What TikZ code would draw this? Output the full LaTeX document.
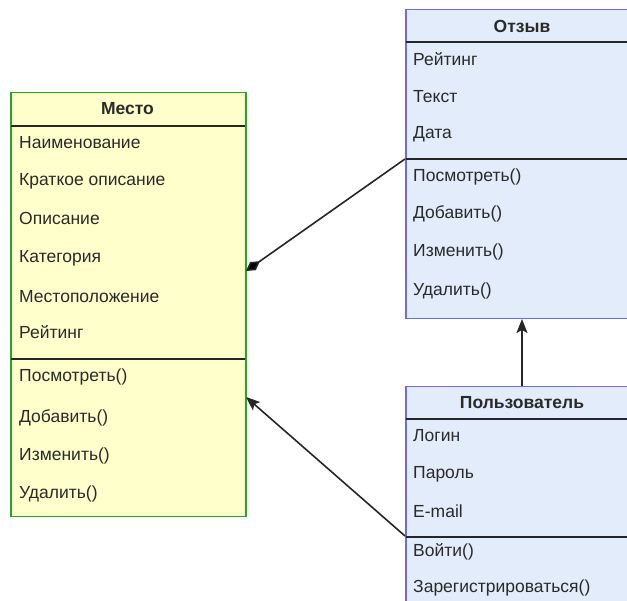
\documentclass[tikz,border=0pt]{standalone}
\usepackage{fontspec}
\setmainfont{Liberation Sans}
\usetikzlibrary{arrows.meta}
\definecolor{placefill}{HTML}{FFFFCC}
\definecolor{placeline}{HTML}{1FAA1F}
\definecolor{bluefill}{HTML}{E3ECFB}
\definecolor{blueline}{HTML}{6C6CE8}
\definecolor{txt}{HTML}{2A2A2A}
\tikzset{
  classbox/.style={draw, line width=1.5pt, anchor=north west, inner sep=0pt},
  placebox/.style={classbox, fill=placefill, draw=placeline},
  bluebox/.style={classbox, fill=bluefill, draw=blueline},
  sepline/.style={draw=black!85, line width=1.5pt},
  attr/.style={anchor=west, inner sep=0pt, font=\fontsize{17.5}{20}\selectfont, text=txt},
  title/.style={anchor=center, inner sep=0pt, font=\fontsize{17.5}{20}\selectfont\bfseries, text=txt},
  link/.style={draw=black!85, line width=1.6pt},
}
\begin{document}
\begin{tikzpicture}[x=1pt,y=-1pt]
\useasboundingbox (0,0) rectangle (627,601);
\begin{scope}
\clip (0,0) rectangle (627,601);
% --- class Место ---
\node[placebox, minimum width=235pt, minimum height=424pt] (place) at (10,92) {};
\draw[sepline] (10.5,126) -- (244.5,126);
\draw[sepline] (10.5,359) -- (244.5,359);
\node[title] (placeT) at (127.5,109) {Место};
\node[attr] (p1) at (19,143) {Наименование};
\node[attr] (p2) at (19,181) {Краткое описание};
\node[attr] (p3) at (19,218) {Описание};
\node[attr] (p4) at (19,258) {Категория};
\node[attr] (p5) at (19,297) {Местоположение};
\node[attr] (p6) at (19,332) {Рейтинг};
\node[attr] (p7) at (19,377) {Посмотреть()};
\node[attr] (p8) at (19,418) {Добавить()};
\node[attr] (p9) at (19,456) {Изменить()};
\node[attr] (p10) at (19,494) {Удалить()};
% --- class Отзыв ---
\node[bluebox, minimum width=240pt, minimum height=309pt] (review) at (405,9) {};
\draw[sepline] (405.5,42) -- (640,42);
\draw[sepline] (405.5,159) -- (640,159);
\node[title] (reviewT) at (522,26) {Отзыв};
\node[attr] (r1) at (413,59) {Рейтинг};
\node[attr] (r2) at (413,97) {Текст};
\node[attr] (r3) at (413,134) {Дата};
\node[attr] (r4) at (413,177) {Посмотреть()};
\node[attr] (r5) at (413,214) {Добавить()};
\node[attr] (r6) at (413,252) {Изменить()};
\node[attr] (r7) at (413,291) {Удалить()};
% --- class Пользователь ---
\node[bluebox, minimum width=240pt, minimum height=240pt] (user) at (405,386) {};
\draw[sepline] (405.5,419) -- (640,419);
\draw[sepline] (405.5,537) -- (640,537);
\node[title] (userT) at (522,403) {Пользователь};
\node[attr] (u1) at (413,436) {Логин};
\node[attr] (u2) at (413,474) {Пароль};
\node[attr] (u3) at (413,511) {E-mail};
\node[attr] (u4) at (413,552) {Войти()};
\node[attr] (u5) at (413,588) {Зарегистрироваться()};
\end{scope}
% --- connector end points ---
\coordinate (revSep) at (405,159);
\coordinate (placeMid) at (246,271);
\coordinate (userSep) at (405,536);
\coordinate (placeLow) at (246,397);
\coordinate (userTop) at (522,386);
\coordinate (revBottom) at (522,319);
% --- relations ---
\draw[link, -{Diamond[fill=black, length=17pt, width=10pt]}] (revSep) -- (placeMid);
\draw[link, -{Stealth[length=14pt, width=11pt, inset=3pt]}] (userSep) -- (placeLow);
\draw[link, -{Stealth[length=14pt, width=11pt, inset=3pt]}] (userTop) -- (revBottom);
\end{tikzpicture}
\end{document}
